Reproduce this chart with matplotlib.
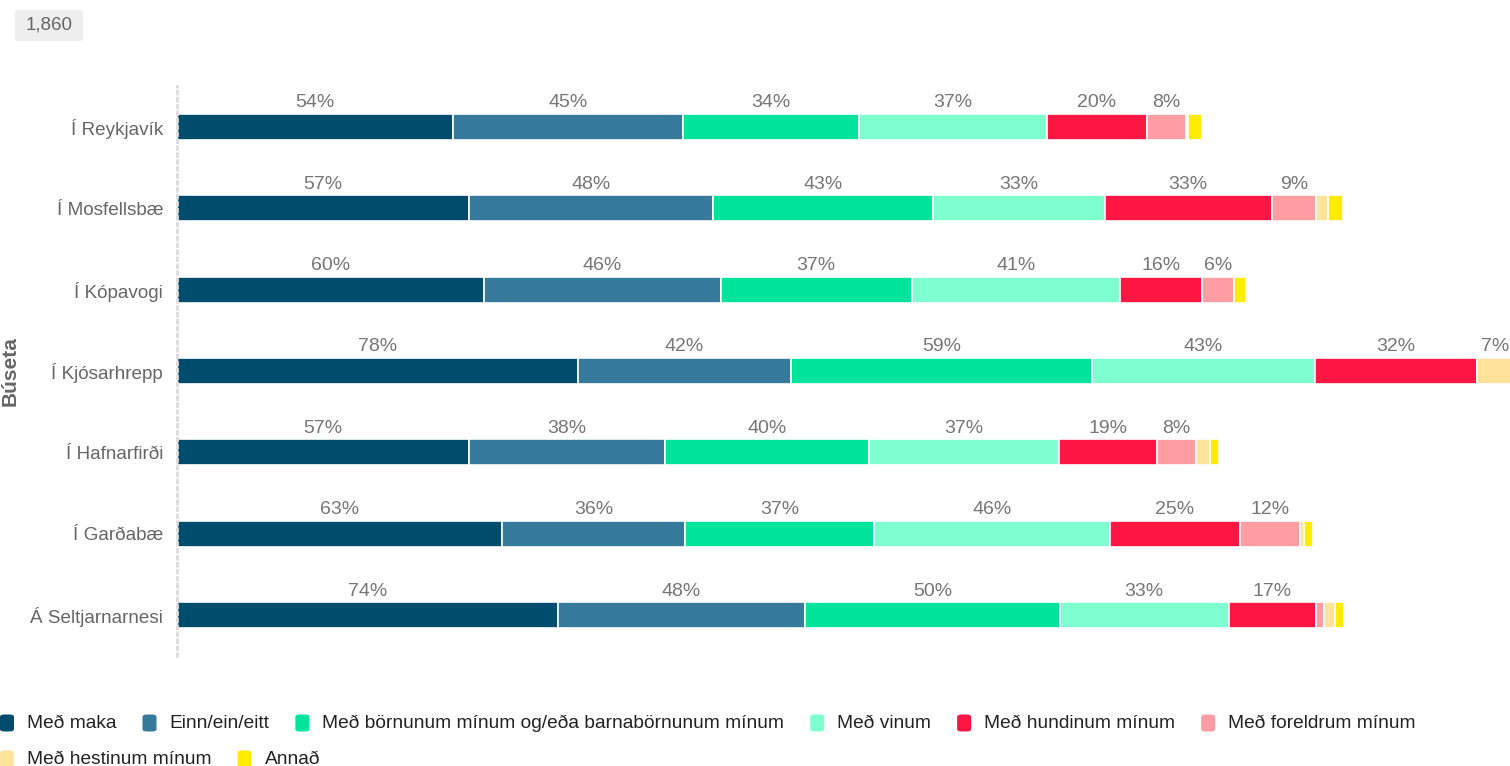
import matplotlib
matplotlib.use("Agg")
import matplotlib.pyplot as plt
from matplotlib.patches import FancyBboxPatch
import numpy as np

plt.rcParams['font.family'] = ['Liberation Sans', 'DejaVu Sans']

categories = ["Í Reykjavík", "Í Mosfellsbæ", "Í Kópavogi", "Í Kjósarhrepp",
              "Í Hafnarfirði", "Í Garðabæ", "Á Seltjarnarnesi"]
series_names = ["Með maka", "Einn/ein/eitt", "Með börnunum mínum og/eða barnabörnunum mínum",
                "Með vinum", "Með hundinum mínum", "Með foreldrum mínum",
                "Með hestinum mínum", "Annað"]
colors = ["#004c6d", "#35799b", "#00e39b", "#7fffd0", "#ff1744", "#ff9da3", "#ffe39b", "#ffec00"]

med_maka   = [53.8, 56.9, 59.8, 78.2, 56.9, 63.4, 74.3]
einn       = [44.8, 47.6, 46.2, 41.5, 38.2, 35.7, 48.1]
bornum     = [34.3, 42.9, 37.2, 58.7, 39.8, 36.8, 49.7]
vinum      = [36.6, 33.4, 40.7, 43.4, 37.0, 46.0, 32.9]
hundinum   = [19.6, 32.6, 16.0, 31.6, 19.1, 25.3, 17.0]
foreldrum  = [7.6, 8.6, 6.2, 0.0, 7.6, 11.7, 1.6]
hestinum   = [0.4, 2.3, 0.0, 7.0, 2.7, 0.7, 2.2]
annad      = [2.7, 2.9, 2.3, 0.0, 1.8, 1.8, 1.7]
total_n = "1,860"
axis_title = "Búseta"

series = [med_maka, einn, bornum, vinum, hundinum, foreldrum, hestinum, annad]

W, H = 1510, 766
fig = plt.figure(figsize=(W / 100, H / 100), dpi=100)
ax_left, ax_top, ax_bottom = 177, 86, 656
ax = fig.add_axes([ax_left / W, 1 - ax_bottom / H, 1 - ax_left / W, (ax_bottom - ax_top) / H])

y = np.arange(len(categories))
left = np.zeros(len(categories))
for name, vals, col in zip(series_names, series, colors):
    vals = np.array(vals)
    ax.barh(y, vals, left=left, height=0.32, color=col, edgecolor="white", linewidth=1.2, label=name)
    for i, v in enumerate(vals):
        if v >= 5:
            ax.text(left[i] + v / 2, y[i] - 0.295, f"{round(v)}%", ha="center", va="center",
                    fontsize=14, color="#767676")
    left += vals

ax.set_xlim(0, (W - ax_left) / 5.13)
ax.set_ylim(len(categories) - 0.5, -0.5)
ax.set_yticks(y)
ax.set_yticklabels(categories, fontsize=13.6, color="#666666")
ax.tick_params(axis="y", length=0, pad=10)
ax.set_xticks([])
for s in ["top", "right", "bottom"]:
    ax.spines[s].set_visible(False)
ax.spines["left"].set_linestyle((0, (1, 1.5)))
ax.spines["left"].set_color("#dcdcdc")
ax.spines["left"].set_linewidth(2)

fig.text(10 / W, 1 - 371 / H, axis_title, rotation=90, ha="center", va="center",
         fontsize=15, fontweight="bold", color="#666666")

# count badge
fig.patches.append(FancyBboxPatch((15 / W, 1 - 41 / H), 68 / W, 31 / H,
                                  boxstyle="round,pad=0,rounding_size=0.003",
                                  transform=fig.transFigure, facecolor="#eeeeee", edgecolor="none"))
fig.text(49 / W, 1 - 25.5 / H, total_n, ha="center", va="center", fontsize=13.5, color="#666666")

# flow legend
renderer = fig.canvas.get_renderer()
x = 0.0
row_y = [723, 759]
row = 0
for name, col in zip(series_names, colors):
    t = fig.text(0, 0, name, fontsize=13.8, color="#222222", va="center", ha="left")
    tw = t.get_window_extent(renderer).width
    item_w = 27 + tw
    if x + item_w > W - 60:
        row += 1
        x = 0.0
    yc = row_y[row]
    fig.patches.append(FancyBboxPatch((x / W, 1 - (yc + 8.5) / H), 14 / W, 17 / H,
                                      boxstyle="round,pad=0,rounding_size=0.003",
                                      transform=fig.transFigure, facecolor=col, edgecolor="none"))
    t.set_position(((x + 27) / W, 1 - yc / H))
    x += item_w + 26

fig.savefig("out.png", dpi=100)
